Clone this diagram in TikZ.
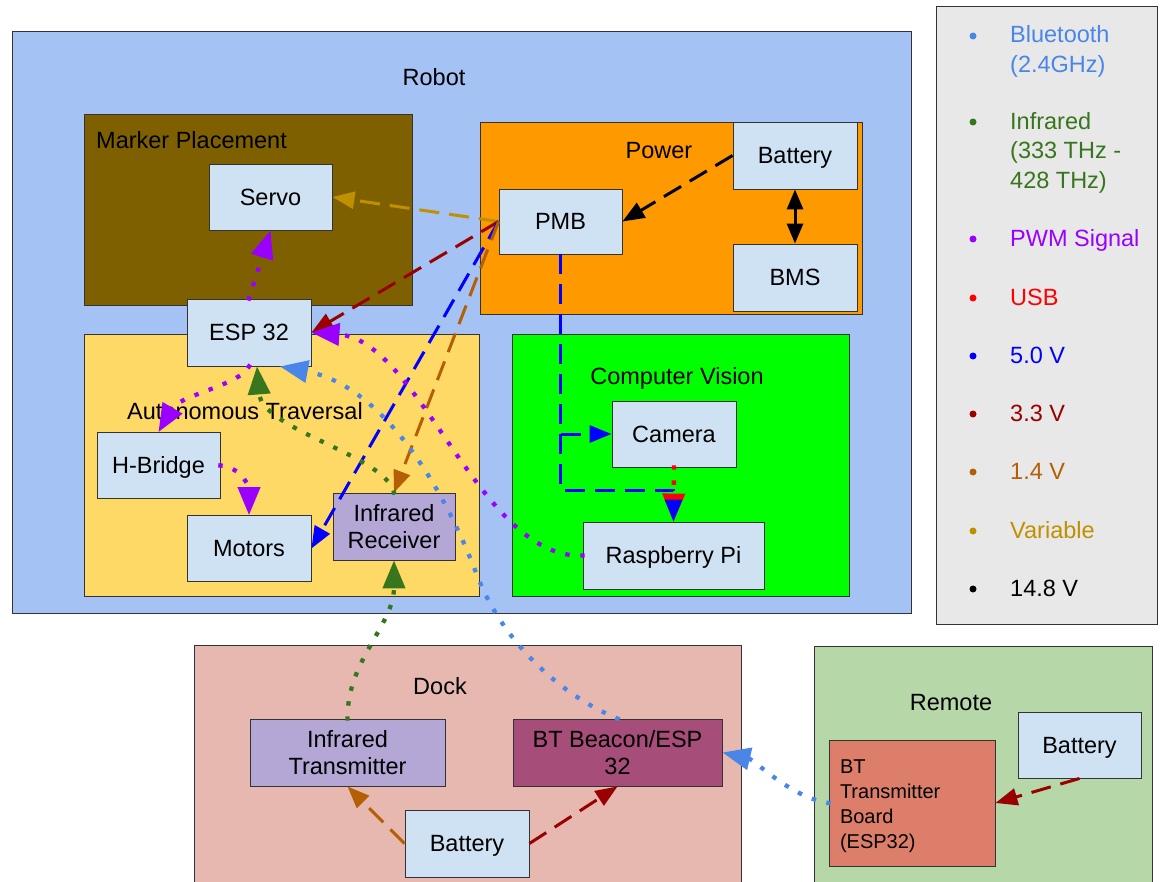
\documentclass[tikz,border=0pt]{standalone}
\usepackage{fontspec}
\setmainfont{Liberation Sans}
\usetikzlibrary{arrows.meta}
\definecolor{robotc}{HTML}{A4C2F4}
\definecolor{markerc}{HTML}{7F6000}
\definecolor{autoc}{HTML}{FFD966}
\definecolor{powerc}{HTML}{FF9900}
\definecolor{cvc}{HTML}{00FF00}
\definecolor{legc}{HTML}{E8E8E8}
\definecolor{dockc}{HTML}{E6B8AF}
\definecolor{remc}{HTML}{B6D7A8}
\definecolor{boxc}{HTML}{CFE2F3}
\definecolor{irc}{HTML}{B4A7D6}
\definecolor{beaconc}{HTML}{A64D79}
\definecolor{bttxc}{HTML}{DD7E6B}
\definecolor{btcol}{HTML}{4A86E8}
\definecolor{ircol}{HTML}{38761D}
\definecolor{pwmcol}{HTML}{9900FF}
\definecolor{usbcol}{HTML}{FF0000}
\definecolor{fivecol}{HTML}{0000FF}
\definecolor{threecol}{HTML}{990000}
\definecolor{onecol}{HTML}{B45F06}
\definecolor{varcol}{HTML}{BF9000}
\definecolor{edgec}{HTML}{333333}
\newcommand\bigfnt{\fontsize{23.5}{28}\selectfont}
\newcommand\legfnt{\fontsize{23.5}{29.5}\selectfont}
\newcommand\smallfnt{\fontsize{20}{25}\selectfont}
\begin{document}
\begin{tikzpicture}[x=1pt,y=-1pt,
  cont/.style={draw=edgec, line width=0.9pt, inner sep=0pt},
  blk/.style={draw=edgec, line width=0.9pt, fill=boxc, inner sep=0pt, align=center, font=\bigfnt, minimum width=123pt, minimum height=66pt},
  oneline/.style={text height=21.3pt, text depth=5pt},
  lbl/.style={font=\bigfnt, inner sep=0pt, oneline},
  legtxt/.style={font=\legfnt, inner sep=0pt, anchor=west, align=left},
  legdot/.style={circle, inner sep=0pt, minimum size=7pt},
  dashline/.style={line width=3pt, dash pattern=on 20pt off 10pt, -{Triangle[length=22pt,width=17pt]}},
  dotline/.style={line width=4.3pt, line cap=rect, dash pattern=on 0.1pt off 15pt, -{Triangle[length=28pt,width=22pt]}}
]
\useasboundingbox (0,0) rectangle (1161,882);

% containers
\node[cont, fill=robotc, minimum width=899pt, minimum height=582pt] (robot) at (461.5,322) {};
\node[lbl] (robotlbl) at (434,77) {Robot};
\node[cont, fill=markerc, minimum width=328pt, minimum height=191pt] (marker) at (248,209.5) {};
\node[lbl, anchor=west] (markerlbl) at (96,140) {Marker Placement};
\node[cont, fill=autoc, minimum width=395pt, minimum height=262pt] (auto) at (281.5,465) {};
\node[lbl] (autolbl) at (245,411) {Autonomous Traversal};
\node[cont, fill=powerc, minimum width=382pt, minimum height=192pt] (power) at (671,218) {};
\node[lbl] (powerlbl) at (659,150) {Power};
\node[cont, fill=cvc, minimum width=337pt, minimum height=262pt] (cv) at (680.5,465) {};
\node[lbl] (cvlbl) at (677,376) {Computer Vision};
\node[cont, fill=legc, minimum width=221pt, minimum height=618pt] (legend) at (1046.5,315) {};
\node[cont, fill=dockc, minimum width=547pt, minimum height=245pt] (dock) at (467.5,767.5) {};
\node[lbl] (docklbl) at (440,686) {Dock};
\node[cont, fill=remc, minimum width=338pt, minimum height=244pt] (remote) at (983,768) {};
\node[lbl] (remotelbl) at (951,702) {Remote};

% blocks
\node[blk, oneline] (servo) at (270.5,197) {Servo};
\node[blk, oneline, minimum width=124pt, minimum height=67pt] (esp) at (249,332.5) {ESP 32};
\node[blk, oneline] (hbridge) at (158.5,465.5) {H-Bridge};
\node[blk, oneline, minimum width=124pt] (motors) at (249,548.5) {Motors};
\node[blk, fill=irc, minimum width=122pt, minimum height=67pt] (irrx) at (394,526.5) {Infrared\\[-0.5pt]Receiver};
\node[blk, oneline, minimum width=124pt, minimum height=67pt] (pbatt) at (795,155.5) {Battery};
\node[blk, oneline, minimum height=65pt] (pmb) at (560.5,221.5) {PMB};
\node[blk, oneline, minimum width=124pt, minimum height=67pt] (bms) at (795,277.5) {BMS};
\node[blk, oneline, minimum width=124pt] (cam) at (674,434) {Camera};
\node[blk, oneline, minimum width=181pt, minimum height=67pt] (rpi) at (673.5,555.5) {Raspberry Pi};
\node[blk, fill=irc, minimum width=195pt, minimum height=67pt] (irtx) at (347.5,752.5) {Infrared\\[-0.5pt]Transmitter};
\node[blk, fill=beaconc, minimum width=209pt, minimum height=67pt] (btb) at (617.5,752.5) {BT Beacon/ESP\\[-0.5pt]32};
\node[blk, oneline, minimum width=124pt, minimum height=67pt] (dbatt) at (467,843.5) {Battery};
\node[blk, fill=bttxc, minimum width=166pt, minimum height=126pt, text width=144pt, align=left, font=\smallfnt] (bttx) at (912,803) {\rule{0pt}{20.3pt}BT\\Transmitter\\Board\\(ESP32)};
\node[blk, oneline] (rbatt) at (1079.5,745) {Battery};

% legend
\node[legdot, fill=btcol] (ld1) at (973,36) {};
\node[legtxt, text=btcol] (lt1) at (1010,51.5) {Bluetooth\\(2.4GHz)};
\node[legdot, fill=ircol] (ld2) at (973,122) {};
\node[legtxt, text=ircol] (lt2) at (1010,152.5) {Infrared\\(333 THz -\\428 THz)};
\node[legdot, fill=pwmcol] (ld3) at (973,239) {};
\node[legtxt, oneline, text=pwmcol] (lt3) at (1010,238) {PWM Signal};
\node[legdot, fill=usbcol] (ld4) at (973,298) {};
\node[legtxt, oneline, text=usbcol] (lt4) at (1010,297) {USB};
\node[legdot, fill=fivecol] (ld5) at (973,356) {};
\node[legtxt, oneline, text=fivecol] (lt5) at (1010,355) {5.0 V};
\node[legdot, fill=threecol] (ld6) at (973,414) {};
\node[legtxt, oneline, text=threecol] (lt6) at (1010,413) {3.3 V};
\node[legdot, fill=onecol] (ld7) at (973,472) {};
\node[legtxt, oneline, text=onecol] (lt7) at (1010,471) {1.4 V};
\node[legdot, fill=varcol] (ld8) at (973,531) {};
\node[legtxt, oneline, text=varcol] (lt8) at (1010,530) {Variable};
\node[legdot, fill=black] (ld9) at (973,589) {};
\node[legtxt, oneline, text=black] (lt9) at (1010,588) {14.8 V};

% coordinates
\coordinate (cvbend) at (pmb.south |- 0,490);
\coordinate (cvturn) at (rpi.north |- 0,490);
\coordinate (camjoin) at (pmb.south |- cam.west);

% power connectors
\draw[dashline, varcol] (pmb.west) -- (servo.east);
\draw[dashline, threecol] (pmb.west) -- (esp.east);
\draw[dashline, fivecol] (pmb.west) -- (motors.east);
\draw[dashline, onecol] (pmb.west) -- (irrx.north);
\draw[dashline, black] (pbatt.west) -- (pmb.east);
\draw[line width=3pt, black, {Triangle[length=20pt,width=16pt]}-{Triangle[length=20pt,width=16pt]}] (pbatt.south) -- (bms.north);
\draw[dotline, usbcol] (cam.south) -- (rpi.north);
\draw[dashline, fivecol] (pmb.south) -- (cvbend) -- (cvturn) -- (rpi.north);
\draw[dashline, fivecol] (camjoin) -- (cam.west);

% signals
\draw[dotline, pwmcol] (esp.north) -- (servo.south);
\draw[dotline, pwmcol] (esp.south) .. controls (240,385) and (180,395) .. (hbridge.north);
\draw[dotline, pwmcol] (hbridge.east) .. controls (238,466) and (249,485) .. (motors.north);
\draw[dotline, pwmcol] (rpi.west) .. controls (480,560) and (420,340) .. (esp.east);
\draw[dotline, ircol] (irtx.north) .. controls (347,660) and (394,625) .. (irrx.south);
\draw[dotline, ircol] (irrx.north) .. controls (385,455) and (262,430) .. ([xshift=8pt]esp.south);
\draw[dotline, btcol] (btb.north) .. controls (560,695) and (500,640) .. (475,570) .. controls (440,480) and (380,385) .. ([xshift=31pt]esp.south);
\draw[dotline, btcol] (bttx.west) .. controls (790,797) and (755,760) .. (btb.east);

% dock and remote power
\draw[dashline, onecol] (dbatt.west) -- (irtx.south);
\draw[dashline, threecol] (dbatt.east) -- (btb.south);
\draw[dashline, threecol] (rbatt.south) -- (bttx.east);
\end{tikzpicture}
\end{document}
